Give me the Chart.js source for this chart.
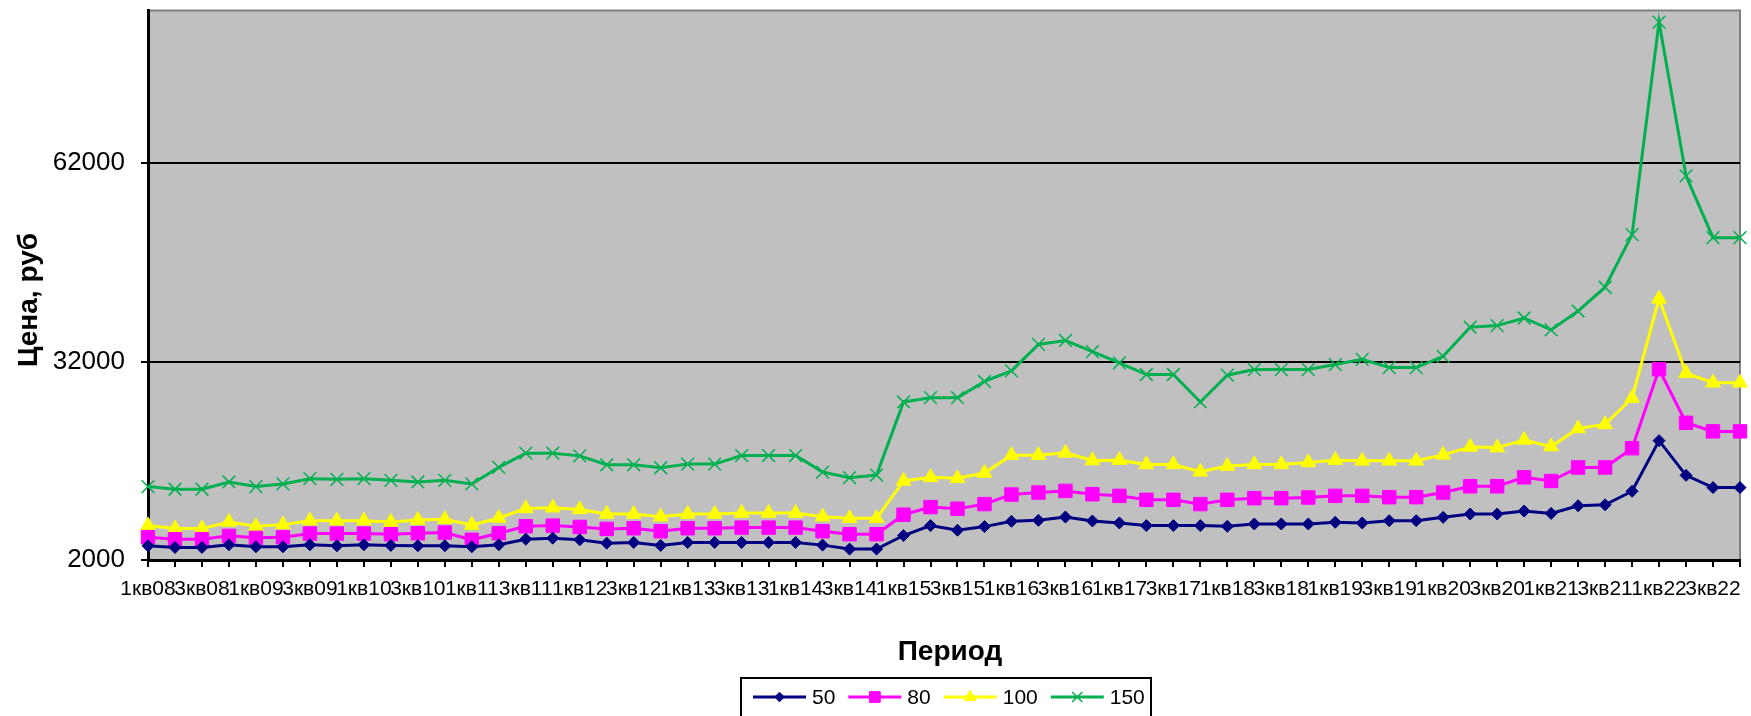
<!DOCTYPE html>
<html lang="ru">
<head>
<meta charset="utf-8">
<title>Цена по периодам</title>
<script src="https://cdn.jsdelivr.net/npm/chart.js"></script>
<style>
  html, body { margin: 0; padding: 0; background: #fff; }
  canvas { display: block; }
</style>
</head>
<body>
<canvas id="price-chart" width="1751" height="716"></canvas>
<script>
  const periods = [
    '1кв08', '2кв08', '3кв08', '4кв08', '1кв09', '2кв09', '3кв09', '4кв09',
    '1кв10', '2кв10', '3кв10', '4кв10', '1кв11', '2кв11', '3кв11', '4кв11',
    '1кв12', '2кв12', '3кв12', '4кв12', '1кв13', '2кв13', '3кв13', '4кв13',
    '1кв14', '2кв14', '3кв14', '4кв14', '1кв15', '2кв15', '3кв15', '4кв15',
    '1кв16', '2кв16', '3кв16', '4кв16', '1кв17', '2кв17', '3кв17', '4кв17',
    '1кв18', '2кв18', '3кв18', '4кв18', '1кв19', '2кв19', '3кв19', '4кв19',
    '1кв20', '2кв20', '3кв20', '4кв20', '1кв21', '2кв21', '3кв21', '4кв21',
    '1кв22', '2кв22', '3кв22', '4кв22'
  ];

  const price50 = [
    4150, 3900, 3900, 4300, 4000, 4000, 4300, 4150, 4300, 4200, 4150, 4150,
    4000, 4300, 5150, 5300, 5050, 4550, 4650, 4200, 4650, 4650, 4650, 4650,
    4650, 4250, 3650, 3650, 5700, 7200, 6500, 7050, 7850, 8000, 8500, 7900,
    7600, 7200, 7200, 7200, 7100, 7450, 7450, 7450, 7700, 7600, 7950, 7950,
    8450, 8950, 8950, 9400, 9050, 10200, 10350, 12400, 20050, 14800, 12950, 12950
  ];
  const price80 = [
    5450, 5150, 5150, 5650, 5350, 5450, 6000, 6000, 6000, 5900, 6050, 6150,
    5050, 6050, 7100, 7200, 7000, 6700, 6800, 6350, 6800, 6800, 6900, 6900,
    6900, 6350, 5900, 5900, 8850, 10000, 9750, 10450, 11900, 12200, 12450, 11950,
    11700, 11100, 11100, 10450, 11100, 11350, 11350, 11450, 11700, 11700, 11500, 11500,
    12200, 13150, 13150, 14500, 13950, 16000, 16000, 18900, 30850, 22750, 21450, 21450
  ];
  const price100 = [
    7200, 6750, 6750, 7750, 7100, 7350, 7950, 7950, 7950, 7750, 8050, 8150,
    7300, 8350, 9800, 9900, 9650, 8950, 8950, 8550, 8950, 8950, 9100, 9100,
    9100, 8550, 8300, 8300, 13950, 14500, 14350, 15150, 17850, 17850, 18200, 17050,
    17100, 16450, 16450, 15350, 16200, 16450, 16450, 16750, 17100, 17000, 17000, 17000,
    17900, 19100, 19000, 20150, 19150, 21900, 22500, 26500, 41500, 30250, 28800, 28800
  ];
  const price150 = [
    13100, 12700, 12700, 13800, 13100, 13500, 14300, 14200, 14300, 14050, 13800, 14050,
    13500, 16000, 18150, 18150, 17750, 16400, 16400, 15950, 16500, 16500, 17800, 17800,
    17800, 15300, 14450, 14850, 25900, 26550, 26550, 29000, 30600, 34600, 35200, 33500,
    31800, 30050, 30050, 25900, 29950, 30800, 30800, 30800, 31550, 32350, 31100, 31100,
    32800, 37200, 37450, 38600, 36800, 39650, 43250, 51200, 83350, 60100, 50750, 50750
  ];

  const yTicks = [2000, 32000, 62000];
  const seriesNames = ['50', '80', '100', '150'];

  const FONT = "'Liberation Sans', Arial, sans-serif";

  const series = [
    { label: seriesNames[0], data: price50, color: '#000080', style: 'rectRot', radius: 6, bw: 1 },
    { label: seriesNames[1], data: price80, color: '#FF00FF', style: 'rect', radius: 9.5, bw: 1 },
    { label: seriesNames[2], data: price100, color: '#FFFF00', style: 'triangle', radius: 8.5, bw: 1 },
    { label: seriesNames[3], data: price150, color: '#00B050', style: 'crossRot', radius: 9, bw: 1.5 }
  ];

  // plot background, grey frame, axis titles and the boxed legend
  const excelLook = {
    id: 'excelLook',
    beforeDraw(chart) {
      const { ctx, chartArea: a } = chart;
      ctx.save();
      ctx.fillStyle = '#fff';
      ctx.fillRect(0, 0, chart.width, chart.height);
      ctx.fillStyle = '#C0C0C0';
      ctx.fillRect(a.left, a.top, a.right - a.left, a.bottom - a.top);
      ctx.strokeStyle = '#808080';
      ctx.lineWidth = 2;
      ctx.beginPath();
      ctx.moveTo(a.left, a.top);
      ctx.lineTo(a.right, a.top);
      ctx.lineTo(a.right, a.bottom);
      ctx.stroke();
      ctx.restore();
    },
    afterDraw(chart) {
      const { ctx } = chart;
      ctx.save();
      ctx.fillStyle = '#000';
      ctx.font = 'bold 28px ' + FONT;
      ctx.textAlign = 'center';
      ctx.textBaseline = 'alphabetic';
      ctx.fillText('Период', 950, 660);

      ctx.translate(37, 300);
      ctx.rotate(-Math.PI / 2);
      ctx.fillText('Цена, руб', 0, 0);
      ctx.restore();

      // legend
      ctx.save();
      ctx.strokeStyle = '#000';
      ctx.lineWidth = 2;
      ctx.strokeRect(741, 678, 410, 60);
      ctx.font = '21px ' + FONT;
      ctx.textBaseline = 'middle';
      ctx.textAlign = 'left';
      const ly = 697;
      let x = 753;
      series.forEach(s => {
        ctx.strokeStyle = s.color;
        ctx.fillStyle = s.color;
        ctx.lineWidth = 3;
        ctx.beginPath();
        ctx.moveTo(x, ly);
        ctx.lineTo(x + 53, ly);
        ctx.stroke();
        ctx.lineWidth = s.bw;
        Chart.helpers.drawPoint(ctx, { pointStyle: s.style, radius: s.radius * 0.8, rotation: 0, borderWidth: s.bw }, x + 26.5, ly);
        ctx.fillStyle = '#000';
        ctx.fillText(s.label, x + 59, ly + 1);
        x += 59 + ctx.measureText(s.label).width + 13;
      });
      ctx.restore();
    }
  };

  new Chart(document.getElementById('price-chart'), {
    type: 'line',
    data: {
      labels: periods,
      datasets: series.map(s => ({
        label: s.label,
        data: s.data,
        borderColor: s.color,
        backgroundColor: s.color,
        borderWidth: 3,
        pointStyle: s.style,
        pointRadius: s.radius,
        pointBorderWidth: s.bw,
        pointBackgroundColor: s.color,
        pointBorderColor: s.color,
        tension: 0,
        fill: false
      }))
    },
    options: {
      responsive: false,
      animation: false,
      events: [],
      layout: { padding: { top: 9, right: 11, left: 0, bottom: 0 } },
      plugins: {
        legend: { display: false },
        tooltip: { enabled: false }
      },
      scales: {
        x: {
          type: 'category',
          offset: false,
          grid: { drawOnChartArea: false, drawTicks: true, tickLength: 7, color: '#000', lineWidth: 2 },
          border: { color: '#000', width: 3 },
          ticks: {
            autoSkip: false,
            maxRotation: 0,
            minRotation: 0,
            padding: 10,
            color: '#000',
            font: { family: FONT, size: 21 },
            callback: (v, i) => (i % 2 === 0 ? periods[i] : '')
          },
          afterFit(scale) {
            scale.height = 156;
            scale.paddingLeft = 0;
            scale.paddingRight = 0;
          }
        },
        y: {
          min: 2000,
          max: 85100,
          grid: { color: '#000', lineWidth: 2, tickLength: 7 },
          border: { color: '#000', width: 3 },
          ticks: {
            padding: 16,
            color: '#000',
            font: { family: FONT, size: 26 },
            callback: v => String(v)
          },
          afterBuildTicks(scale) {
            scale.ticks = yTicks.map(v => ({ value: v }));
          },
          afterFit(scale) {
            scale.width = 148;
            scale.paddingTop = 0;
            scale.paddingBottom = 0;
          }
        }
      }
    },
    plugins: [excelLook]
  });
</script>
</body>
</html>
